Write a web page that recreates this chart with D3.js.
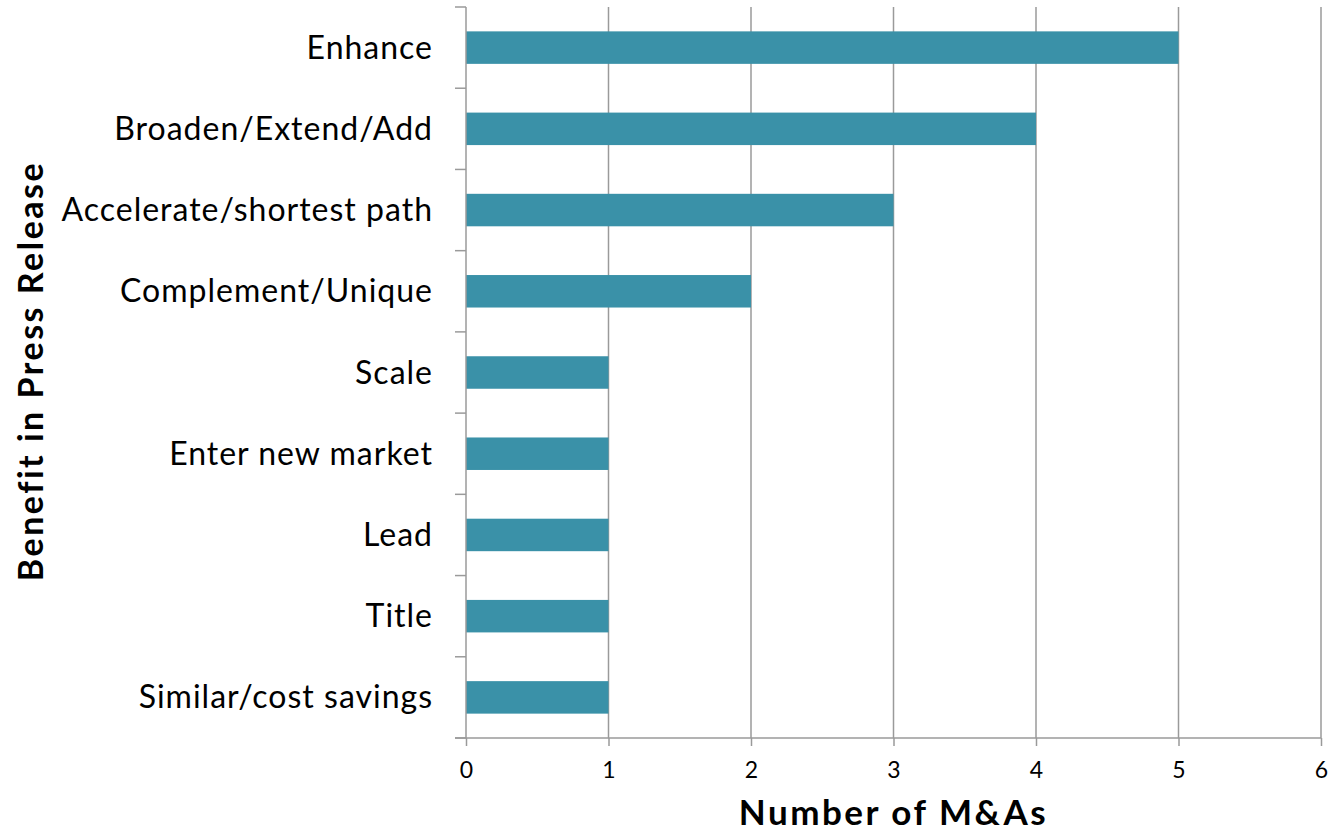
<!DOCTYPE html>
<html>
<head>
<meta charset="utf-8">
<script src="https://cdn.jsdelivr.net/npm/d3@7"></script>
<style>
  html, body { margin: 0; padding: 0; background: #fff; }
  svg { display: block; }
  text { font-family: "Lato", "Open Sans", sans-serif; fill: #000; }
</style>
</head>
<body>
<svg id="chart" width="1331" height="833"></svg>
<script>
// Benefits cited in M&A press releases
const categories = [
  "Enhance",
  "Broaden/Extend/Add",
  "Accelerate/shortest path",
  "Complement/Unique",
  "Scale",
  "Enter new market",
  "Lead",
  "Title",
  "Similar/cost savings"
];
const counts = [5, 4, 3, 2, 1, 1, 1, 1, 1];
const xTicks = [0, 1, 2, 3, 4, 5, 6];

const svg = d3.select("#chart");
const plotLeft = 466, plotRight = 1321, plotTop = 7, plotBottom = 738;
const gridColor = "#9a9a9a";

const x = d3.scaleLinear().domain([0, 6]).range([plotLeft, plotRight]);
const y = d3.scaleBand().domain(categories).range([plotTop, plotBottom]).paddingInner(0.6).paddingOuter(0.3);

// vertical gridlines
svg.append("g").selectAll("line").data(xTicks.slice(1)).join("line")
  .attr("x1", d => x(d)).attr("x2", d => x(d))
  .attr("y1", plotTop).attr("y2", plotBottom)
  .attr("stroke", gridColor).attr("stroke-width", 1.5);

// bars
svg.append("g").selectAll("rect").data(categories).join("rect")
  .attr("x", x(0))
  .attr("y", d => y(d))
  .attr("width", (d, i) => x(counts[i]) - x(0))
  .attr("height", y.bandwidth())
  .attr("fill", "#3a91a8");

// x axis
const xAxis = svg.append("g").attr("transform", `translate(0,${plotBottom})`)
  .call(d3.axisBottom(x).tickValues(xTicks).tickSize(8).tickPadding(16).tickFormat(d3.format("d")));
xAxis.select(".domain").attr("d", `M${plotLeft - 11},0H${plotRight}`);
xAxis.selectAll("line, path").attr("stroke", gridColor).attr("stroke-width", 1.5);
xAxis.selectAll("text").attr("font-size", 23).attr("font-family", "Lato, sans-serif").attr("fill", "#000");

// y axis: ticks at category boundaries
const boundaries = d3.range(categories.length + 1).map(i => plotTop + i * (plotBottom - plotTop) / categories.length);
const yAxisG = svg.append("g");
yAxisG.append("line")
  .attr("x1", plotLeft).attr("x2", plotLeft).attr("y1", plotTop).attr("y2", plotBottom)
  .attr("stroke", gridColor).attr("stroke-width", 1.5);
yAxisG.selectAll("line.tk").data(boundaries).join("line").attr("class", "tk")
  .attr("x1", plotLeft - 11).attr("x2", plotLeft)
  .attr("y1", d => d).attr("y2", d => d)
  .attr("stroke", gridColor).attr("stroke-width", 1.5);

// category labels
svg.append("g").selectAll("text").data(categories).join("text")
  .attr("x", 433)
  .attr("y", d => y(d) + y.bandwidth() / 2 + 11)
  .attr("text-anchor", "end")
  .attr("font-size", 32)
  .attr("letter-spacing", 1)
  .text(d => d);

// axis titles
svg.append("text")
  .attr("x", (plotLeft + plotRight) / 2)
  .attr("y", 825)
  .attr("text-anchor", "middle")
  .attr("font-size", 35)
  .attr("font-weight", "bold")
  .attr("letter-spacing", 2.5)
  .text("Number of M&As");

svg.append("text")
  .attr("transform", `translate(43,371) rotate(-90)`)
  .attr("text-anchor", "middle")
  .attr("font-size", 34)
  .attr("font-weight", "bold")
  .attr("letter-spacing", 2.5)
  .text("Benefit in Press Release");
</script>
</body>
</html>
